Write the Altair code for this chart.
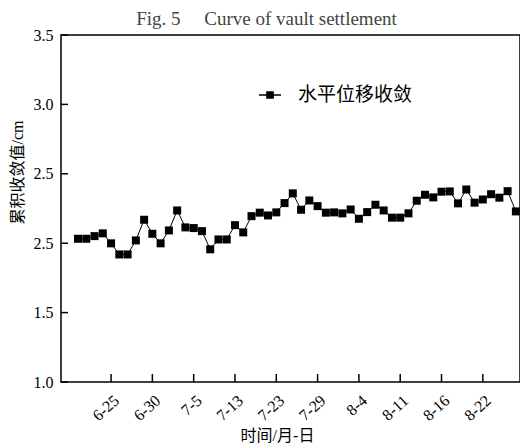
import altair as alt
import pandas as pd

SERIF = "Liberation Serif, Noto Sans CJK SC"

idx = list(range(54))
values = [2.032, 2.032, 2.051, 2.071, 1.999, 1.919, 1.919, 2.020, 2.169, 2.068,
          1.999, 2.092, 2.236, 2.114, 2.109, 2.087, 1.956, 2.027, 2.027, 2.130,
          2.078, 2.195, 2.220, 2.200, 2.222, 2.289, 2.359, 2.241, 2.308, 2.267,
          2.220, 2.222, 2.215, 2.243, 2.176, 2.224, 2.277, 2.236, 2.184, 2.184,
          2.215, 2.306, 2.349, 2.330, 2.371, 2.373, 2.287, 2.387, 2.292, 2.315,
          2.353, 2.328, 2.375, 2.229]
x_tick_pos = [4, 9, 14, 19, 24, 29, 34, 39, 44, 49]
x_tick_labels = ["6-25", "6-30", "7-5", "7-13", "7-23", "7-29", "8-4", "8-11", "8-16", "8-22"]
y_tick_vals = [1.0, 1.5, 2.0, 2.5, 3.0, 3.5]
y_tick_labels = ["1.0", "1.5", "2.5", "2.5", "3.0", "3.5"]
series_name = "水平位移收敛"
title_text = "Fig. 5\u00a0\u00a0\u00a0\u00a0\u00a0Curve of vault settlement"

W, H = 459, 347

df = pd.DataFrame({"i": idx, "v": values, "s": [series_name] * len(idx)})
xdf = pd.DataFrame({"i": x_tick_pos})
ydf = pd.DataFrame({"v": y_tick_vals})

xscale = alt.Scale(domain=[-2.06, 53.5], nice=False, zero=False)
yscale = alt.Scale(domain=[1.0, 3.5], nice=False, zero=False)

def arr(lst, q):
    if q:
        return "[" + ",".join("'" + s + "'" for s in lst) + "]"
    return "[" + ",".join(str(v) for v in lst) + "]"

x_label_expr = arr(x_tick_labels, True) + "[indexof(" + arr(x_tick_pos, False) + ", datum.value)]"
y_label_expr = arr(y_tick_labels, True) + "[indexof(" + arr(y_tick_vals, False) + ", datum.value)]"

xaxis = alt.Axis(values=x_tick_pos, labelExpr=x_label_expr, labelAngle=318,
                 labelAlign="right", labelBaseline="top", labelPadding=10,
                 labelFont=SERIF, labelFontSize=16, labelColor="black",
                 tickSize=0, domain=False, grid=False,
                 title="时间/月-日", titleFont=SERIF, titleFontSize=16,
                 titleFontWeight="normal", titleColor="black",
                 titleX=216, titleY=53, titleAlign="center", titleBaseline="middle")
yaxis = alt.Axis(values=y_tick_vals, labelExpr=y_label_expr,
                 labelFont=SERIF, labelFontSize=16, labelColor="black", labelPadding=8,
                 tickSize=0, domain=False, grid=False,
                 title="累积收敛值/cm", titleFont=SERIF, titleFontSize=16,
                 titleFontWeight="normal", titleColor="black",
                 titleX=-44, titleY=137, titleAngle=270, titleAlign="center",
                 titleBaseline="middle")

base = alt.Chart(df)
line = base.mark_line(color="black", strokeWidth=1).encode(
    x=alt.X("i:Q", scale=xscale, axis=xaxis),
    y=alt.Y("v:Q", scale=yscale, axis=yaxis),
)
pts = base.mark_point(shape="square", filled=True, size=64, opacity=1).encode(
    x=alt.X("i:Q", scale=xscale, axis=xaxis),
    y=alt.Y("v:Q", scale=yscale, axis=yaxis),
    color=alt.Color("s:N", scale=alt.Scale(range=["black"]),
                    legend=alt.Legend(title=None, orient="none", legendX=197, legendY=48,
                                      symbolType="M-1,0H-0.3M0.3,0H1M-0.28,-0.28H0.28V0.28H-0.28Z",
                                      symbolSize=484, symbolStrokeWidth=1.5,
                                      symbolFillColor="black", symbolStrokeColor="black",
                                      labelFont=SERIF, labelFontSize=19, labelColor="black",
                                      labelOffset=16)),
)
yt = alt.Chart(ydf).mark_rule(color="black", strokeWidth=1.5).encode(
    y=alt.Y("v:Q", scale=yscale, axis=yaxis), x=alt.value(0), x2=alt.value(7))
xt = alt.Chart(xdf).mark_rule(color="black", strokeWidth=1.5).encode(
    x=alt.X("i:Q", scale=xscale, axis=xaxis), y=alt.value(H), y2=alt.value(H - 8))

chart = alt.layer(line, pts, yt, xt).properties(
    width=W, height=H,
    autosize="none",
    padding={"left": 53, "top": 27, "right": 0, "bottom": 62},
    title=alt.Title(title_text, font=SERIF, fontSize=19,
                    fontWeight="normal", color="#444", anchor="middle", dx=-24, dy=29,
                    frame="group", baseline="alphabetic", offset=12),
).configure_view(stroke="black", strokeWidth=1.5)

chart.save("out.html", embed_options={"renderer": "svg", "actions": False})
